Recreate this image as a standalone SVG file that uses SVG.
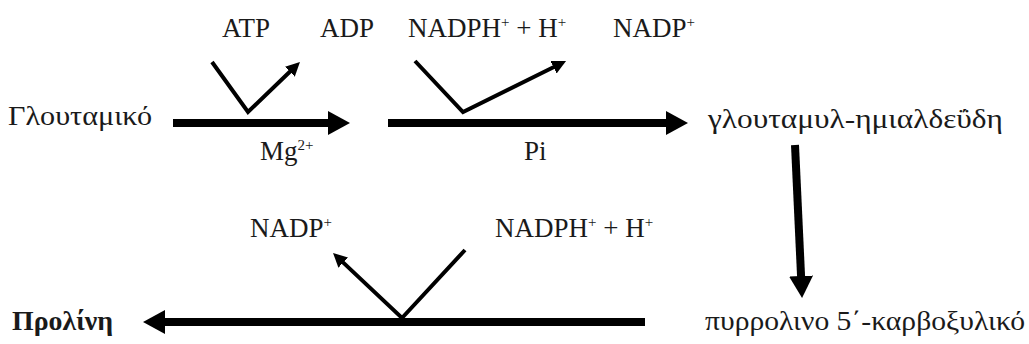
<svg xmlns="http://www.w3.org/2000/svg" width="1029" height="344" viewBox="0 0 1029 344">
<style>
text{font-family:"Liberation Serif","DejaVu Serif","Times New Roman",serif;font-size:27px;fill:#1a1a1a}
.b{font-weight:bold}
.sup{font-size:15px}
.thick{stroke:#000;stroke-width:8;fill:none}
.thin{stroke:#000;stroke-width:4;fill:none}
</style>
<defs>
<marker id="hk" markerUnits="userSpaceOnUse" viewBox="0 -12 22 24" markerWidth="22" markerHeight="24" refX="1" refY="0" orient="auto"><path d="M0,-12 L22,0 L0,12 z" fill="#000"/></marker>
<marker id="hn" markerUnits="userSpaceOnUse" viewBox="0 -7 14 14" markerWidth="14" markerHeight="14" refX="1" refY="0" orient="auto"><path d="M0,-7 L14,0 L0,7 z" fill="#000"/></marker>
</defs>
<rect width="1029" height="344" fill="#fff"/>
<g id="glutamate"><text x="8" y="125" textLength="144" lengthAdjust="spacingAndGlyphs">Γλουταμικό</text></g>
<g id="atp"><text x="222" y="37">ATP</text></g>
<g id="adp"><text x="320" y="37">ADP</text></g>
<g id="nadph1"><text x="408" y="37">NADPH<tspan class="sup" dy="-10">+</tspan><tspan dy="10"> + H</tspan><tspan class="sup" dy="-10">+</tspan></text></g>
<g id="nadp1"><text x="613" y="37">NADP<tspan class="sup" dy="-10">+</tspan></text></g>
<g id="mg"><text x="260" y="160">Mg<tspan class="sup" dy="-10">2+</tspan></text></g>
<g id="pi"><text x="524" y="160">Pi</text></g>
<g id="semialdehyde"><text x="708" y="128" textLength="295" lengthAdjust="spacingAndGlyphs">γλουταμυλ-ημιαλδεΰδη</text></g>
<g id="nadp2"><text x="250" y="237">NADP<tspan class="sup" dy="-10">+</tspan></text></g>
<g id="nadph2"><text x="495" y="237">NADPH<tspan class="sup" dy="-10">+</tspan><tspan dy="10"> + H</tspan><tspan class="sup" dy="-10">+</tspan></text></g>
<g id="p5c"><text x="705" y="330" textLength="320" lengthAdjust="spacingAndGlyphs">πυρρολινο 5΄-καρβοξυλικό</text></g>
<g id="proline"><text class="b" x="12" y="330" textLength="101" lengthAdjust="spacingAndGlyphs">Προλίνη</text></g>
<g id="connectors">
<line class="thick" x1="173" y1="123" x2="329" y2="123" marker-end="url(#hk)"/>
<line class="thick" x1="388" y1="123" x2="667" y2="123" marker-end="url(#hk)"/>
<line class="thick" x1="795" y1="145" x2="801.1" y2="277" marker-end="url(#hk)"/>
<line class="thick" x1="645" y1="322" x2="164" y2="322" marker-end="url(#hk)"/>
<polyline class="thin" points="212,62 248,112 290.6,71" marker-end="url(#hn)"/>
<polyline class="thin" points="415,61 463,112 554.4,66.8" marker-end="url(#hn)"/>
<polyline class="thin" points="465,250 402,318 342.5,261.9" marker-end="url(#hn)"/>
</g>
</svg>
